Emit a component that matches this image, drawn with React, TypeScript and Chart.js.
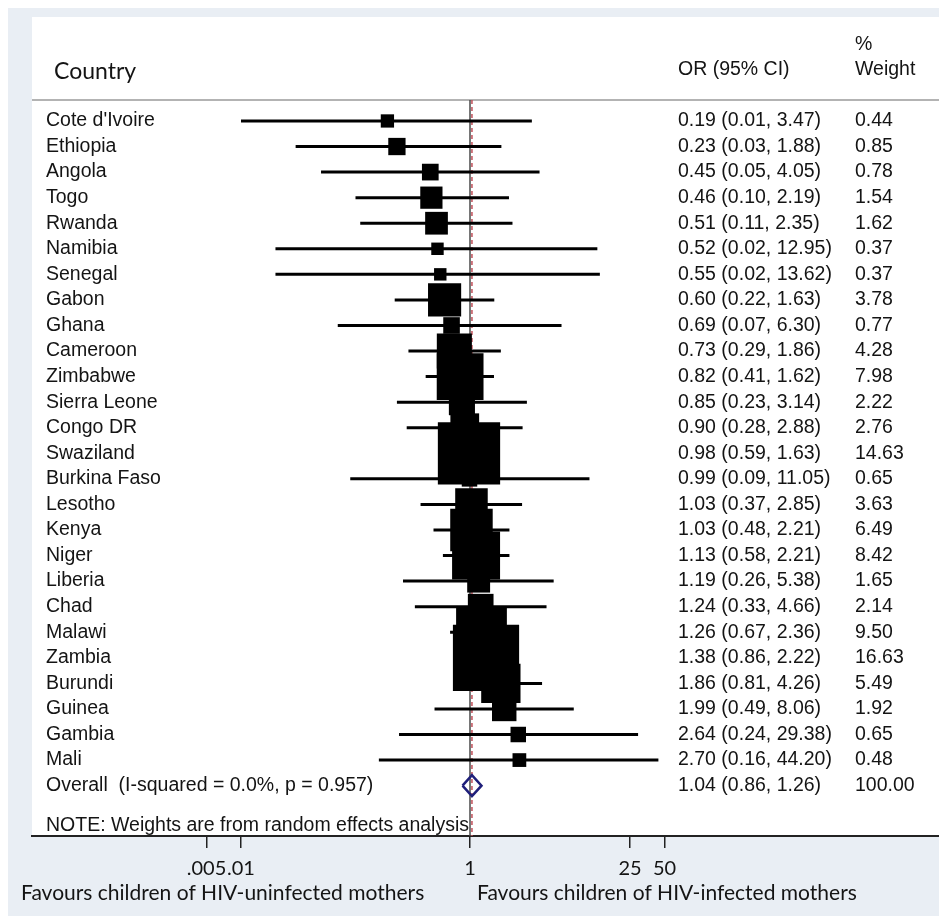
import { useEffect, useRef } from "react";
import { Chart, registerables } from "chart.js";

Chart.register(...registerables);

// Study rows, top to bottom
const COUNTRIES = [
  "Cote d'Ivoire", "Ethiopia", "Angola", "Togo", "Rwanda", "Namibia", "Senegal",
  "Gabon", "Ghana", "Cameroon", "Zimbabwe", "Sierra Leone", "Congo DR", "Swaziland",
  "Burkina Faso", "Lesotho", "Kenya", "Niger", "Liberia", "Chad", "Malawi", "Zambia",
  "Burundi", "Guinea", "Gambia", "Mali",
];
const ODDS_RATIO = [
  0.19, 0.23, 0.45, 0.46, 0.51, 0.52, 0.55, 0.60, 0.69, 0.73, 0.82, 0.85, 0.90,
  0.98, 0.99, 1.03, 1.03, 1.13, 1.19, 1.24, 1.26, 1.38, 1.86, 1.99, 2.64, 2.70,
];
const CI_LOW = [
  0.01, 0.03, 0.05, 0.10, 0.11, 0.02, 0.02, 0.22, 0.07, 0.29, 0.41, 0.23, 0.28,
  0.59, 0.09, 0.37, 0.48, 0.58, 0.26, 0.33, 0.67, 0.86, 0.81, 0.49, 0.24, 0.16,
];
const CI_HIGH = [
  3.47, 1.88, 4.05, 2.19, 2.35, 12.95, 13.62, 1.63, 6.30, 1.86, 1.62, 3.14, 2.88,
  1.63, 11.05, 2.85, 2.21, 2.21, 5.38, 4.66, 2.36, 2.22, 4.26, 8.06, 29.38, 44.20,
];
const WEIGHT = [
  0.44, 0.85, 0.78, 1.54, 1.62, 0.37, 0.37, 3.78, 0.77, 4.28, 7.98, 2.22, 2.76,
  14.63, 0.65, 3.63, 6.49, 8.42, 1.65, 2.14, 9.50, 16.63, 5.49, 1.92, 0.65, 0.48,
];

// Pooled estimate
const OVERALL_OR = 1.04;
const OVERALL_LOW = 0.86;
const OVERALL_HIGH = 1.26;
const OVERALL_WEIGHT = 100.0;
const OVERALL_LABEL = "Overall  (I-squared = 0.0%, p = 0.957)";
const NOTE_LABEL = "NOTE: Weights are from random effects analysis";

// Axis ticks
const X_TICKS = [0.005, 0.01, 1, 25, 50];
const X_TICK_LABELS = [".005", ".01", "1", "25", "50"];
const NULL_LINE = 1;

const LEFT_LABEL = "Favours children of HIV-uninfected mothers";
const RIGHT_LABEL = "Favours children of HIV-infected mothers";

// Layout constants
const W = 939;
const H = 916;
const OVERALL_ROW = COUNTRIES.length;
const NOTE_ROW = OVERALL_ROW + 1.55;
const Y_MIN = -0.82;
const Y_MAX = 27.97;
const X_MIN = Math.pow(10, -3.8253);
const X_MAX = Math.pow(10, 4.0961);
const DIAMOND_HALF = 0.41;

const ARIAL = '"Liberation Sans", Arial, sans-serif';
const HUMANIST = "Lato, sans-serif";
const TEXT = "#141414";
const OR_COL_X = 678;
const WT_COL_X = 855;

const fmt = (v: number) => v.toFixed(2);

const forestFrame = {
  id: "forestFrame",
  beforeDraw(chart: any) {
    const { ctx, chartArea } = chart;
    ctx.save();
    ctx.fillStyle = "#ffffff";
    ctx.fillRect(0, 0, W, H);
    ctx.fillStyle = "#e9eef4";
    ctx.fillRect(8, 8, W - 8, H - 8);
    ctx.fillStyle = "#ffffff";
    ctx.fillRect(chartArea.left, 17, chartArea.right - chartArea.left, chartArea.bottom - 17);
    // rule under the column headers
    ctx.strokeStyle = "#9a9a9a";
    ctx.lineWidth = 1.5;
    ctx.beginPath();
    ctx.moveTo(chartArea.left, chartArea.top);
    ctx.lineTo(chartArea.right, chartArea.top);
    ctx.stroke();
    ctx.restore();
  },
  afterDraw(chart: any) {
    const { ctx, chartArea } = chart;
    const ys = chart.scales.y;
    const xs = chart.scales.x;
    ctx.save();
    ctx.fillStyle = TEXT;
    ctx.textBaseline = "middle";
    ctx.textAlign = "left";

    // column headers
    ctx.font = `23px ${HUMANIST}`;
    ctx.fillText("Country", 54, chartArea.top - 28);
    ctx.font = `19.5px ${ARIAL}`;
    ctx.fillText("OR (95% CI)", OR_COL_X, chartArea.top - 30);
    ctx.fillText("%", WT_COL_X, chartArea.top - 55);
    ctx.fillText("Weight", WT_COL_X, chartArea.top - 30);

    // study rows
    COUNTRIES.forEach((name, i) => {
      const y = ys.getPixelForValue(i);
      ctx.fillText(name, 46, y);
      ctx.fillText(`${fmt(ODDS_RATIO[i])} (${fmt(CI_LOW[i])}, ${fmt(CI_HIGH[i])})`, OR_COL_X, y);
      ctx.fillText(fmt(WEIGHT[i]), WT_COL_X, y);
    });

    const yo = ys.getPixelForValue(OVERALL_ROW);
    ctx.fillText(OVERALL_LABEL, 46, yo);
    ctx.fillText(`${fmt(OVERALL_OR)} (${fmt(OVERALL_LOW)}, ${fmt(OVERALL_HIGH)})`, OR_COL_X, yo);
    ctx.fillText(fmt(OVERALL_WEIGHT), WT_COL_X, yo);

    ctx.fillText(NOTE_LABEL, 46, ys.getPixelForValue(NOTE_ROW));

    // direction labels under the axis
    ctx.font = `21px ${HUMANIST}`;
    const x1 = xs.getPixelForValue(NULL_LINE);
    ctx.fillText(LEFT_LABEL, 21, chartArea.bottom + 57);
    ctx.fillText(RIGHT_LABEL, x1 + 7, chartArea.bottom + 57);
    ctx.restore();
  },
};

export default function App() {
  const ref = useRef<HTMLCanvasElement | null>(null);

  useEffect(() => {
    document.body.style.margin = "0";
    const canvas = ref.current;
    if (!canvas) return;

    const boxSide = (w: number) => 15.5 * Math.sqrt(w) + 3;

    const ciLines = COUNTRIES.map((_, i) => ({
      type: "scatter" as const,
      data: [
        { x: CI_LOW[i], y: i },
        { x: CI_HIGH[i], y: i },
      ],
      showLine: true,
      borderColor: "#000",
      borderWidth: 3,
      pointRadius: 0,
      order: 2,
    }));

    const chart = new Chart(canvas, {
      type: "scatter",
      data: {
        datasets: [
          {
            data: [
              { x: OVERALL_LOW, y: OVERALL_ROW },
              { x: OVERALL_OR, y: OVERALL_ROW - DIAMOND_HALF },
              { x: OVERALL_HIGH, y: OVERALL_ROW },
              { x: OVERALL_OR, y: OVERALL_ROW + DIAMOND_HALF },
              { x: OVERALL_LOW, y: OVERALL_ROW },
            ],
            showLine: true,
            borderColor: "#1f1f7a",
            borderWidth: 2.5,
            borderJoinStyle: "miter",
            pointRadius: 0,
            order: 0,
          },
          {
            data: ODDS_RATIO.map((v, i) => ({ x: v, y: i })),
            pointStyle: "rect",
            pointRadius: WEIGHT.map((w) => boxSide(w) / Math.SQRT2),
            backgroundColor: "#000",
            borderWidth: 0,
            order: 1,
          },
          ...ciLines,
          {
            data: [
              { x: NULL_LINE, y: Y_MIN },
              { x: NULL_LINE, y: Y_MAX },
            ],
            showLine: true,
            borderColor: "#4a4a4a",
            borderWidth: 1.5,
            pointRadius: 0,
            order: 3,
          },
          {
            data: [
              { x: OVERALL_OR, y: Y_MIN },
              { x: OVERALL_OR, y: Y_MAX },
            ],
            showLine: true,
            borderColor: "#c0505a",
            borderWidth: 1.5,
            borderDash: [4, 3],
            pointRadius: 0,
            order: 3,
          },
        ] as any,
      },
      options: {
        responsive: false,
        animation: false,
        events: [],
        layout: { autoPadding: false, padding: { left: 32, top: 100, right: 0, bottom: 0 } },
        plugins: {
          legend: { display: false },
          tooltip: { enabled: false },
        },
        scales: {
          x: {
            type: "logarithmic",
            min: X_MIN,
            max: X_MAX,
            afterBuildTicks: (s: any) => {
              s.ticks = X_TICKS.map((v) => ({ value: v }));
            },
            afterFit: (s: any) => {
              s.height = 80;
            },
            ticks: {
              autoSkip: false,
              maxRotation: 0,
              padding: 9,
              color: TEXT,
              font: { family: HUMANIST, size: 20 },
              callback: (_v: any, idx: number) => X_TICK_LABELS[idx] ?? "",
            },
            grid: {
              drawOnChartArea: false,
              drawTicks: true,
              tickLength: 12,
              color: "#222",
              lineWidth: 1.5,
            },
            border: { display: true, color: "#222", width: 2 },
          },
          y: {
            type: "linear",
            reverse: true,
            min: Y_MIN,
            max: Y_MAX,
            display: false,
          },
        },
      } as any,
      plugins: [forestFrame],
    });

    return () => chart.destroy();
  }, []);

  return (
    <div style={{ width: W, height: H }}>
      <canvas ref={ref} width={W} height={H} style={{ display: "block" }} />
    </div>
  );
}
